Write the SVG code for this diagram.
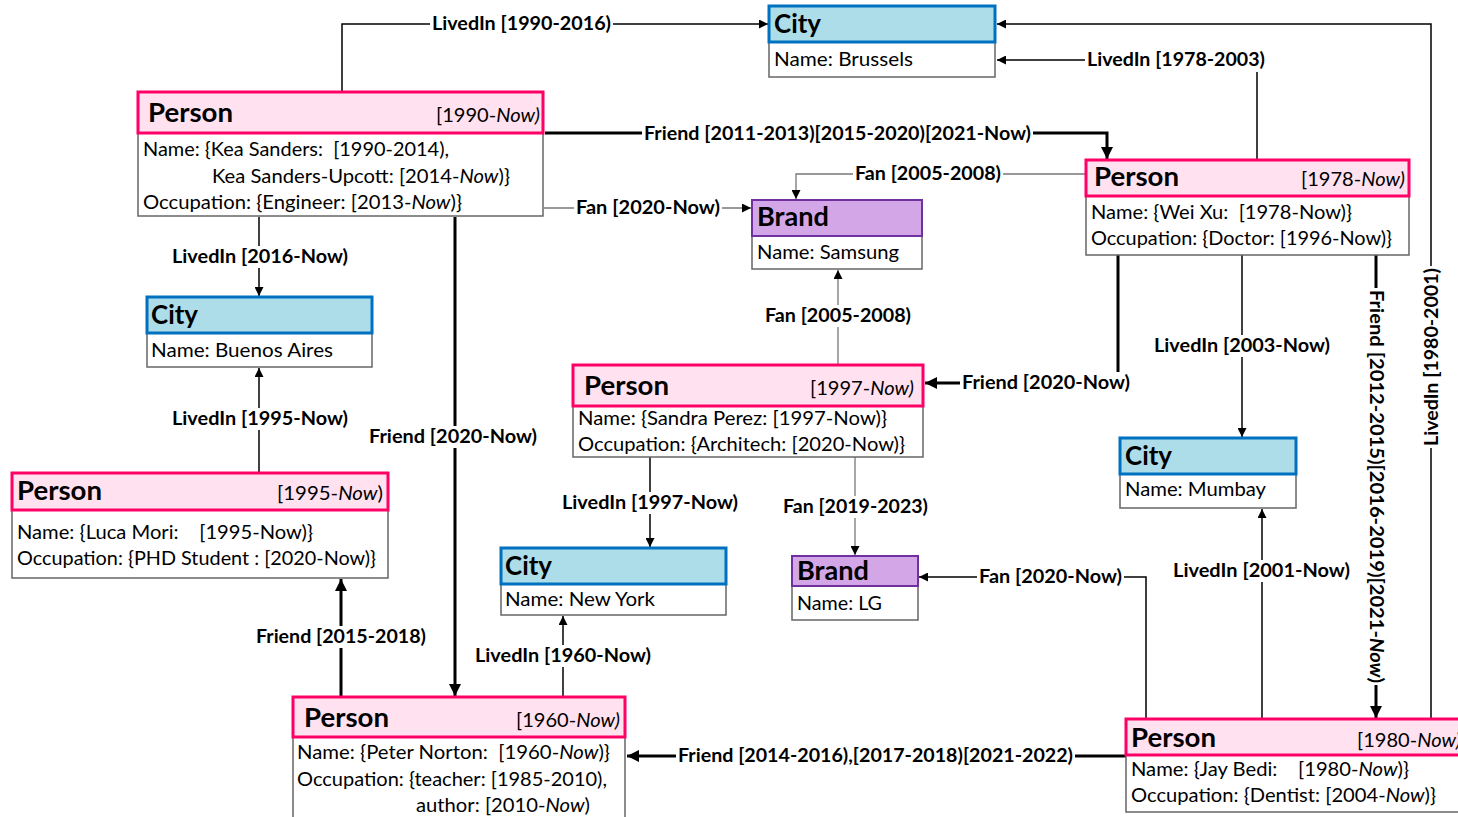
<svg xmlns="http://www.w3.org/2000/svg" width="1458" height="817" viewBox="0 0 1458 817">
  <style>
    text { font-family: Lato, "Open Sans", "Liberation Sans", sans-serif; fill: #000; }
    .ttl { font-size: 26px; font-weight: bold; }
    .dt { font-size: 20px; }
    .at { font-size: 20px; }
    .it { font-style: italic; }
    .lb { font-size: 18.5px; font-weight: bold; }
    .hp { fill: #FFE1EF; stroke: #FF0066; stroke-width: 3; }
    .hc { fill: #ADDDE8; stroke: #0070C0; stroke-width: 3; }
    .hb { fill: #D3A7E7; stroke: #7030A0; stroke-width: 2; }
    .bd { fill: #FFFFFF; stroke: #666666; stroke-width: 1.5; }
    .ln { fill: none; stroke: #000; stroke-width: 1.5; }
    .fan { fill: none; stroke: #777777; stroke-width: 1.3; }
    .tk { fill: none; stroke: #000; stroke-width: 3; }
    .bg { fill: #FFFFFF; }
  </style>
  <defs>
    <marker id="arr" markerUnits="userSpaceOnUse" viewBox="0 0 10 10" refX="10" refY="5" markerWidth="9" markerHeight="9" orient="auto">
      <path d="M0,0 L10,5 L0,10 z" fill="#000"/>
    </marker>
    <marker id="arrT" markerUnits="userSpaceOnUse" viewBox="0 0 10 10" refX="10" refY="5" markerWidth="14" markerHeight="12" orient="auto">
      <path d="M0,0 L10,5 L0,10 z" fill="#000"/>
    </marker>
  </defs>

  <!-- connectors -->
  <g id="edges">
    <path class="ln" d="M342,92 V24 H768" marker-end="url(#arr)"/>
    <path class="ln" d="M1257,160 V60 H997" marker-end="url(#arr)"/>
    <path class="ln" d="M1431,719 V24 H997" marker-end="url(#arr)"/>
    <path class="tk" d="M545,133 H1107 V159" marker-end="url(#arrT)"/>
    <path class="fan" d="M1086,174 H796 V199" marker-end="url(#arr)"/>
    <path class="fan" d="M544,208 H751" marker-end="url(#arr)"/>
    <path class="ln" d="M259,217 V296" marker-end="url(#arr)"/>
    <path class="tk" d="M455,217 V696" marker-end="url(#arrT)"/>
    <path class="ln" d="M259,473 V368" marker-end="url(#arr)"/>
    <path class="tk" d="M341,697 V579" marker-end="url(#arrT)"/>
    <path class="fan" d="M838,365 V270" marker-end="url(#arr)"/>
    <path class="tk" d="M1118,255 V383 H925" marker-end="url(#arrT)"/>
    <path class="ln" d="M1242,255 V437" marker-end="url(#arr)"/>
    <path class="tk" d="M1376,255 V718" marker-end="url(#arrT)"/>
    <path class="ln" d="M650,457 V547" marker-end="url(#arr)"/>
    <path class="fan" d="M855,457 V555" marker-end="url(#arr)"/>
    <path class="ln" d="M563,697 V616" marker-end="url(#arr)"/>
    <path class="ln" d="M1146,719 V577 H919" marker-end="url(#arr)"/>
    <path class="ln" d="M1262,719 V509" marker-end="url(#arr)"/>
    <path class="tk" d="M1126,756 H627" marker-end="url(#arrT)"/>

    <!-- edge labels -->
    <rect class="bg" x="430" y="13" width="183" height="22"/>
    <text class="lb" x="432" y="30" textLength="179" lengthAdjust="spacingAndGlyphs">LivedIn [1990-2016)</text>
    <rect class="bg" x="1085" y="49" width="182" height="23"/>
    <text class="lb" x="1087" y="66" textLength="178" lengthAdjust="spacingAndGlyphs">LivedIn [1978-2003)</text>
    <rect class="bg" x="642" y="123" width="391" height="22"/>
    <text class="lb" x="644" y="140" textLength="387" lengthAdjust="spacingAndGlyphs">Friend [2011-2013)[2015-2020)[2021-Now)</text>
    <rect class="bg" x="853" y="163" width="150" height="22"/>
    <text class="lb" x="855" y="180" textLength="146" lengthAdjust="spacingAndGlyphs">Fan [2005-2008)</text>
    <rect class="bg" x="574" y="197" width="148" height="22"/>
    <text class="lb" x="576" y="214" textLength="144" lengthAdjust="spacingAndGlyphs">Fan [2020-Now)</text>
    <rect class="bg" x="170" y="246" width="180" height="22"/>
    <text class="lb" x="172" y="263" textLength="176" lengthAdjust="spacingAndGlyphs">LivedIn [2016-Now)</text>
    <rect class="bg" x="763" y="305" width="150" height="22"/>
    <text class="lb" x="765" y="322" textLength="146" lengthAdjust="spacingAndGlyphs">Fan [2005-2008)</text>
    <rect class="bg" x="960" y="372" width="172" height="22"/>
    <text class="lb" x="962" y="389" textLength="168" lengthAdjust="spacingAndGlyphs">Friend [2020-Now)</text>
    <rect class="bg" x="1152" y="335" width="180" height="22"/>
    <text class="lb" x="1154" y="352" textLength="176" lengthAdjust="spacingAndGlyphs">LivedIn [2003-Now)</text>
    <rect class="bg" x="170" y="408" width="180" height="22"/>
    <text class="lb" x="172" y="425" textLength="176" lengthAdjust="spacingAndGlyphs">LivedIn [1995-Now)</text>
    <rect class="bg" x="367" y="426" width="172" height="22"/>
    <text class="lb" x="369" y="443" textLength="168" lengthAdjust="spacingAndGlyphs">Friend [2020-Now)</text>
    <rect class="bg" x="560" y="492" width="180" height="22"/>
    <text class="lb" x="562" y="509" textLength="176" lengthAdjust="spacingAndGlyphs">LivedIn [1997-Now)</text>
    <rect class="bg" x="781" y="496" width="149" height="22"/>
    <text class="lb" x="783" y="513" textLength="145" lengthAdjust="spacingAndGlyphs">Fan [2019-2023)</text>
    <rect class="bg" x="977" y="566" width="147" height="22"/>
    <text class="lb" x="979" y="583" textLength="143" lengthAdjust="spacingAndGlyphs">Fan [2020-Now)</text>
    <rect class="bg" x="1171" y="560" width="181" height="22"/>
    <text class="lb" x="1173" y="577" textLength="177" lengthAdjust="spacingAndGlyphs">LivedIn [2001-Now)</text>
    <rect class="bg" x="254" y="626" width="174" height="22"/>
    <text class="lb" x="256" y="643" textLength="170" lengthAdjust="spacingAndGlyphs">Friend [2015-2018)</text>
    <rect class="bg" x="473" y="645" width="180" height="22"/>
    <text class="lb" x="475" y="662" textLength="176" lengthAdjust="spacingAndGlyphs">LivedIn [1960-Now)</text>
    <rect class="bg" x="676" y="745" width="399" height="22"/>
    <text class="lb" x="678" y="762" textLength="395" lengthAdjust="spacingAndGlyphs">Friend [2014-2016),[2017-2018)[2021-2022)</text>
    <!-- vertical labels on the right-hand edges -->
    <rect class="bg" x="1365" y="288" width="22" height="397"/>
    <text class="lb" transform="translate(1370,290) rotate(90)" x="0" y="0" textLength="393" lengthAdjust="spacingAndGlyphs">Friend [2012-2015)[2016-2019)[2021-<tspan class="it">Now</tspan>)</text>
    <rect class="bg" x="1420" y="266" width="22" height="182"/>
    <text class="lb" transform="translate(1438,446) rotate(-90)" x="0" y="0" textLength="178" lengthAdjust="spacingAndGlyphs">LivedIn [1980-2001)</text>
  </g>

  <!-- Person: Kea Sanders -->
  <g id="person-kea">
    <rect class="bd" x="138" y="133" width="405" height="83"/>
    <rect class="hp" x="138" y="92" width="405" height="41"/>
    <text class="ttl" x="148" y="122" textLength="85" lengthAdjust="spacingAndGlyphs">Person</text>
    <text class="dt" x="436" y="122" textLength="104" lengthAdjust="spacingAndGlyphs">[1990-<tspan class="it">Now)</tspan></text>
    <text class="at" x="143" y="156" textLength="306" lengthAdjust="spacingAndGlyphs">Name: {Kea Sanders:&#160; [1990-2014),</text>
    <text class="at" x="212" y="183" textLength="298" lengthAdjust="spacingAndGlyphs">Kea Sanders-Upcott: [2014-<tspan class="it">Now</tspan>)}</text>
    <text class="at" x="143" y="209" textLength="319" lengthAdjust="spacingAndGlyphs">Occupation: {Engineer: [2013-<tspan class="it">Now</tspan>)}</text>
  </g>

  <!-- City: Brussels -->
  <g id="city-brussels">
    <rect class="bd" x="769" y="42" width="226" height="35"/>
    <rect class="hc" x="769" y="6" width="226" height="36"/>
    <text class="ttl" x="774" y="33" textLength="47" lengthAdjust="spacingAndGlyphs">City</text>
    <text class="at" x="774" y="66" textLength="139" lengthAdjust="spacingAndGlyphs">Name: Brussels</text>
  </g>

  <!-- Brand: Samsung -->
  <g id="brand-samsung">
    <rect class="bd" x="752" y="236" width="170" height="33"/>
    <rect class="hb" x="752" y="200" width="170" height="36"/>
    <text class="ttl" x="757" y="226" textLength="72" lengthAdjust="spacingAndGlyphs">Brand</text>
    <text class="at" x="757" y="259" textLength="142" lengthAdjust="spacingAndGlyphs">Name: Samsung</text>
  </g>

  <!-- Person: Wei Xu -->
  <g id="person-wei">
    <rect class="bd" x="1086" y="196" width="323" height="59"/>
    <rect class="hp" x="1086" y="160" width="323" height="36"/>
    <text class="ttl" x="1094" y="186" textLength="85" lengthAdjust="spacingAndGlyphs">Person</text>
    <text class="dt" x="1301" y="186" textLength="104" lengthAdjust="spacingAndGlyphs">[1978-<tspan class="it">Now)</tspan></text>
    <text class="at" x="1091" y="219" textLength="261" lengthAdjust="spacingAndGlyphs">Name: {Wei Xu:&#160; [1978-Now)}</text>
    <text class="at" x="1091" y="245" textLength="301" lengthAdjust="spacingAndGlyphs">Occupation: {Doctor: [1996-Now)}</text>
  </g>

  <!-- City: Buenos Aires -->
  <g id="city-buenos-aires">
    <rect class="bd" x="147" y="333" width="225" height="34"/>
    <rect class="hc" x="147" y="297" width="225" height="36"/>
    <text class="ttl" x="151" y="324" textLength="47" lengthAdjust="spacingAndGlyphs">City</text>
    <text class="at" x="151" y="357" textLength="182" lengthAdjust="spacingAndGlyphs">Name: Buenos Aires</text>
  </g>

  <!-- Person: Sandra Perez -->
  <g id="person-sandra">
    <rect class="bd" x="573" y="406" width="350" height="51"/>
    <rect class="hp" x="573" y="365" width="350" height="41"/>
    <text class="ttl" x="584" y="395" textLength="85" lengthAdjust="spacingAndGlyphs">Person</text>
    <text class="dt" x="810" y="395" textLength="104" lengthAdjust="spacingAndGlyphs">[1997-<tspan class="it">Now)</tspan></text>
    <text class="at" x="578" y="425" textLength="309" lengthAdjust="spacingAndGlyphs">Name: {Sandra Perez: [1997-Now)}</text>
    <text class="at" x="578" y="451" textLength="327" lengthAdjust="spacingAndGlyphs">Occupation: {Architech: [2020-Now)}</text>
  </g>

  <!-- Person: Luca Mori -->
  <g id="person-luca">
    <rect class="bd" x="12" y="510" width="376" height="68"/>
    <rect class="hp" x="12" y="473" width="376" height="37"/>
    <text class="ttl" x="17" y="500" textLength="85" lengthAdjust="spacingAndGlyphs">Person</text>
    <text class="dt" x="277" y="500" textLength="106" lengthAdjust="spacingAndGlyphs">[1995-<tspan class="it">Now</tspan>)</text>
    <text class="at" x="17" y="539" textLength="296" lengthAdjust="spacingAndGlyphs">Name: {Luca Mori:&#160;&#160;&#160; [1995-Now)}</text>
    <text class="at" x="17" y="565" textLength="359" lengthAdjust="spacingAndGlyphs">Occupation: {PHD Student : [2020-Now)}</text>
  </g>

  <!-- City: Mumbay -->
  <g id="city-mumbay">
    <rect class="bd" x="1120" y="474" width="176" height="34"/>
    <rect class="hc" x="1120" y="438" width="176" height="36"/>
    <text class="ttl" x="1125" y="465" textLength="47" lengthAdjust="spacingAndGlyphs">City</text>
    <text class="at" x="1125" y="496" textLength="141" lengthAdjust="spacingAndGlyphs">Name: Mumbay</text>
  </g>

  <!-- City: New York -->
  <g id="city-new-york">
    <rect class="bd" x="501" y="584" width="225" height="31"/>
    <rect class="hc" x="501" y="548" width="225" height="36"/>
    <text class="ttl" x="505" y="575" textLength="47" lengthAdjust="spacingAndGlyphs">City</text>
    <text class="at" x="505" y="606" textLength="150" lengthAdjust="spacingAndGlyphs">Name: New York</text>
  </g>

  <!-- Brand: LG -->
  <g id="brand-lg">
    <rect class="bd" x="792" y="586" width="126" height="34"/>
    <rect class="hb" x="792" y="556" width="126" height="30"/>
    <text class="ttl" x="797" y="580" textLength="72" lengthAdjust="spacingAndGlyphs">Brand</text>
    <text class="at" x="797" y="610" textLength="85" lengthAdjust="spacingAndGlyphs">Name: LG</text>
  </g>

  <!-- Person: Peter Norton -->
  <g id="person-peter">
    <rect class="bd" x="293" y="737" width="332" height="100"/>
    <rect class="hp" x="293" y="697" width="332" height="40"/>
    <text class="ttl" x="304" y="727" textLength="85" lengthAdjust="spacingAndGlyphs">Person</text>
    <text class="dt" x="516" y="727" textLength="104" lengthAdjust="spacingAndGlyphs">[1960-<tspan class="it">Now)</tspan></text>
    <text class="at" x="297" y="759" textLength="313" lengthAdjust="spacingAndGlyphs">Name: {Peter Norton:&#160; [1960-<tspan class="it">Now</tspan>)}</text>
    <text class="at" x="297" y="786" textLength="310" lengthAdjust="spacingAndGlyphs">Occupation: {teacher: [1985-2010),</text>
    <text class="at" x="416" y="812" textLength="174" lengthAdjust="spacingAndGlyphs">author: [2010-<tspan class="it">Now</tspan>)</text>
  </g>

  <!-- Person: Jay Bedi -->
  <g id="person-jay">
    <rect class="bd" x="1126" y="755" width="345" height="57"/>
    <rect class="hp" x="1126" y="719" width="345" height="36"/>
    <text class="ttl" x="1131" y="747" textLength="85" lengthAdjust="spacingAndGlyphs">Person</text>
    <text class="dt" x="1357" y="747" textLength="104" lengthAdjust="spacingAndGlyphs">[1980-<tspan class="it">Now)</tspan></text>
    <text class="at" x="1131" y="776" textLength="278" lengthAdjust="spacingAndGlyphs">Name: {Jay Bedi:&#160;&#160;&#160; [1980-<tspan class="it">Now</tspan>)}</text>
    <text class="at" x="1131" y="802" textLength="305" lengthAdjust="spacingAndGlyphs">Occupation: {Dentist: [2004-<tspan class="it">Now</tspan>)}</text>
  </g>
</svg>
